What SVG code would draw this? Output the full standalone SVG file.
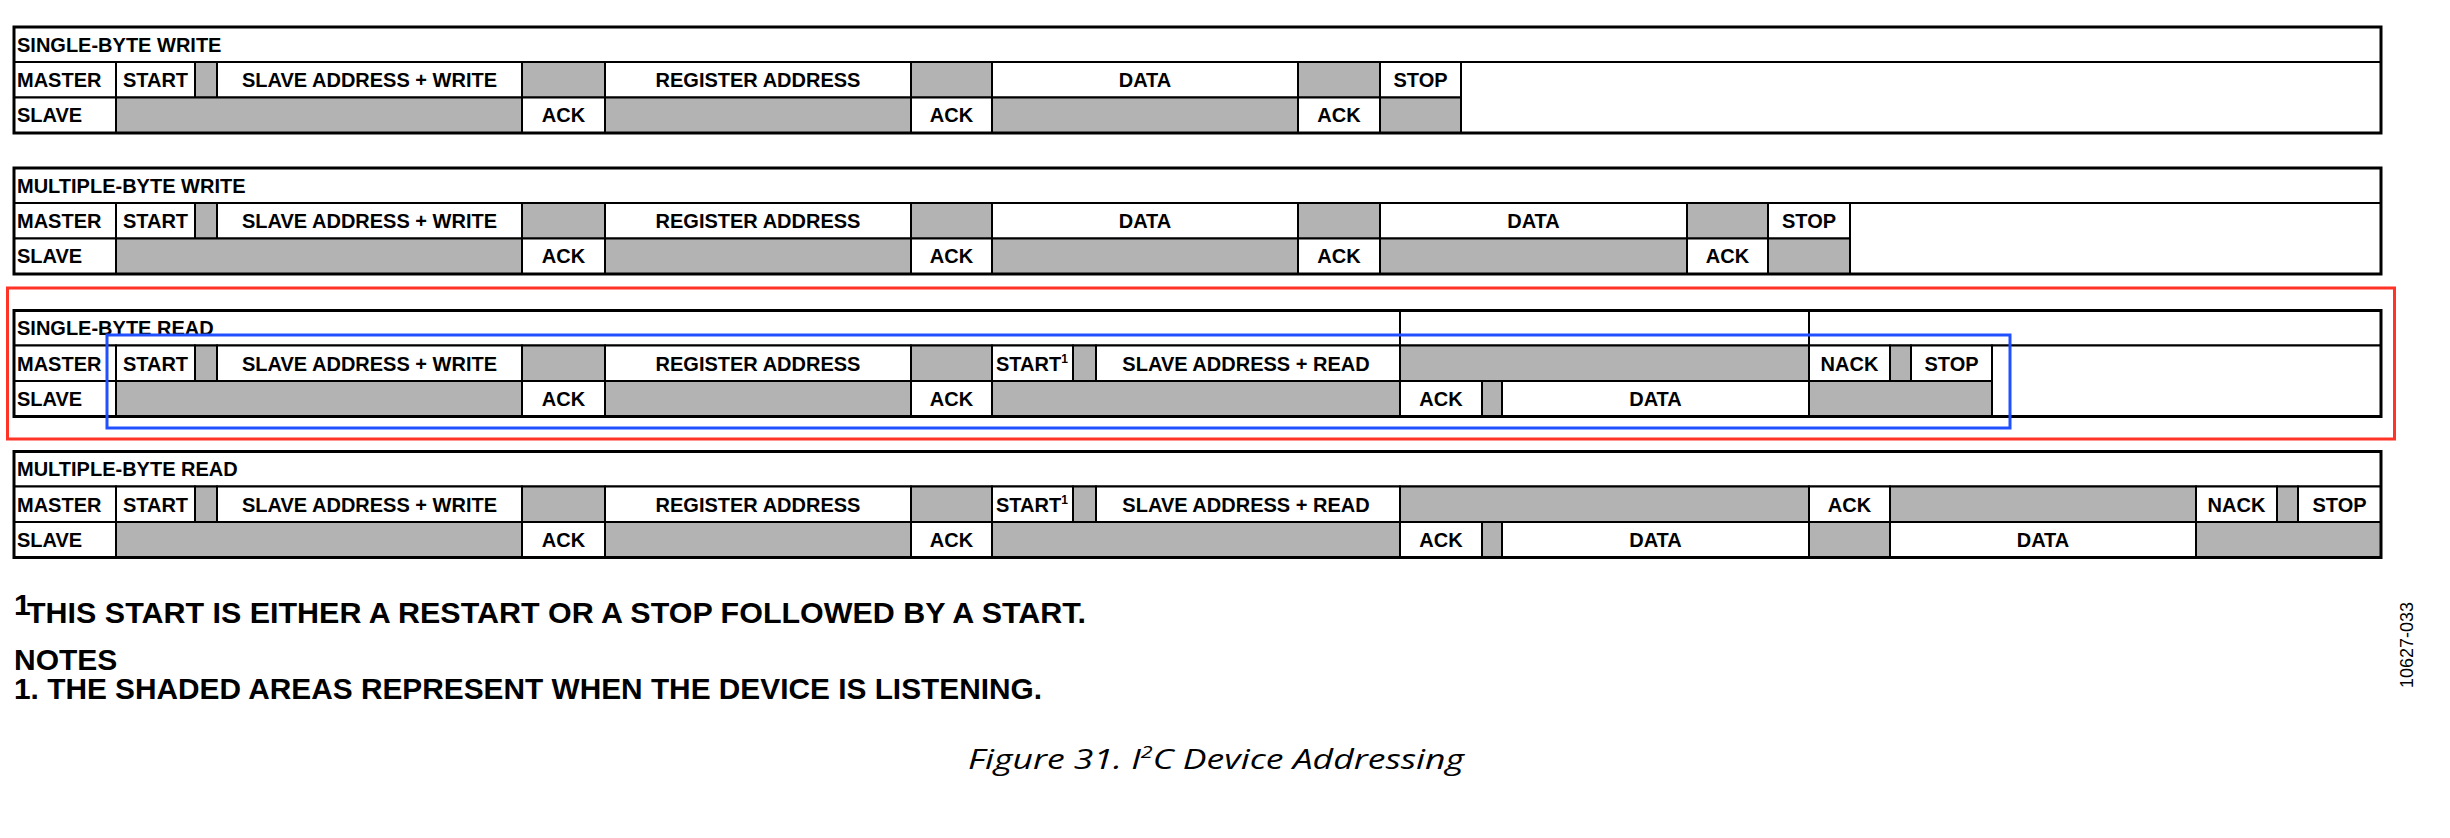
<svg xmlns="http://www.w3.org/2000/svg" width="2450" height="838" viewBox="0 0 2450 838">
<style>
.w{fill:#fff;stroke:#000;stroke-width:2}
.g{fill:#b3b3b3;stroke:#000;stroke-width:2}
.fr{fill:none;stroke:#000;stroke-width:3}
.t{font-family:"Liberation Sans",Arial,sans-serif;font-weight:bold;font-size:20px;text-anchor:middle;fill:#000}
.l{text-anchor:start}
.note{font-family:"Liberation Sans",Arial,sans-serif;font-weight:bold;font-size:30px;fill:#000}
.hl{fill:none;stroke-width:3}
</style>
<rect width="2450" height="838" fill="#fff"/>

<g id="single-byte-write" transform="translate(0,27)">
<rect class="w" x="14" y="0" width="2367" height="35"/>
<rect class="w" x="14" y="35" width="102" height="35.5"/>
<rect class="w" x="116" y="35" width="79" height="35.5"/>
<rect class="g" x="195" y="35" width="22" height="35.5"/>
<rect class="w" x="217" y="35" width="305" height="35.5"/>
<rect class="g" x="522" y="35" width="83" height="35.5"/>
<rect class="w" x="605" y="35" width="306" height="35.5"/>
<rect class="g" x="911" y="35" width="81" height="35.5"/>
<rect class="w" x="992" y="35" width="306" height="35.5"/>
<rect class="g" x="1298" y="35" width="82" height="35.5"/>
<rect class="w" x="1380" y="35" width="81" height="35.5"/>
<rect class="w" x="1461" y="35" width="920" height="71"/>
<rect class="w" x="14" y="70.5" width="102" height="35.5"/>
<rect class="g" x="116" y="70.5" width="406" height="35.5"/>
<rect class="w" x="522" y="70.5" width="83" height="35.5"/>
<rect class="g" x="605" y="70.5" width="306" height="35.5"/>
<rect class="w" x="911" y="70.5" width="81" height="35.5"/>
<rect class="g" x="992" y="70.5" width="306" height="35.5"/>
<rect class="w" x="1298" y="70.5" width="82" height="35.5"/>
<rect class="g" x="1380" y="70.5" width="81" height="35.5"/>
<rect class="fr" x="14" y="0" width="2367" height="106"/>
<text class="t l" x="17" y="24.5">SINGLE-BYTE WRITE</text>
<text class="t l" x="17" y="60">MASTER</text>
<text class="t" x="155.5" y="60">START</text>
<text class="t" x="369.5" y="60">SLAVE ADDRESS + WRITE</text>
<text class="t" x="758" y="60">REGISTER ADDRESS</text>
<text class="t" x="1145" y="60">DATA</text>
<text class="t" x="1420.5" y="60">STOP</text>
<text class="t l" x="17" y="95">SLAVE</text>
<text class="t" x="563.5" y="95">ACK</text>
<text class="t" x="951.5" y="95">ACK</text>
<text class="t" x="1339" y="95">ACK</text>
</g>

<g id="multiple-byte-write" transform="translate(0,168)">
<rect class="w" x="14" y="0" width="2367" height="35"/>
<rect class="w" x="14" y="35" width="102" height="35.5"/>
<rect class="w" x="116" y="35" width="79" height="35.5"/>
<rect class="g" x="195" y="35" width="22" height="35.5"/>
<rect class="w" x="217" y="35" width="305" height="35.5"/>
<rect class="g" x="522" y="35" width="83" height="35.5"/>
<rect class="w" x="605" y="35" width="306" height="35.5"/>
<rect class="g" x="911" y="35" width="81" height="35.5"/>
<rect class="w" x="992" y="35" width="306" height="35.5"/>
<rect class="g" x="1298" y="35" width="82" height="35.5"/>
<rect class="w" x="1380" y="35" width="307" height="35.5"/>
<rect class="g" x="1687" y="35" width="81" height="35.5"/>
<rect class="w" x="1768" y="35" width="82" height="35.5"/>
<rect class="w" x="1850" y="35" width="531" height="71"/>
<rect class="w" x="14" y="70.5" width="102" height="35.5"/>
<rect class="g" x="116" y="70.5" width="406" height="35.5"/>
<rect class="w" x="522" y="70.5" width="83" height="35.5"/>
<rect class="g" x="605" y="70.5" width="306" height="35.5"/>
<rect class="w" x="911" y="70.5" width="81" height="35.5"/>
<rect class="g" x="992" y="70.5" width="306" height="35.5"/>
<rect class="w" x="1298" y="70.5" width="82" height="35.5"/>
<rect class="g" x="1380" y="70.5" width="307" height="35.5"/>
<rect class="w" x="1687" y="70.5" width="81" height="35.5"/>
<rect class="g" x="1768" y="70.5" width="82" height="35.5"/>
<rect class="fr" x="14" y="0" width="2367" height="106"/>
<text class="t l" x="17" y="24.5">MULTIPLE-BYTE WRITE</text>
<text class="t l" x="17" y="60">MASTER</text>
<text class="t" x="155.5" y="60">START</text>
<text class="t" x="369.5" y="60">SLAVE ADDRESS + WRITE</text>
<text class="t" x="758" y="60">REGISTER ADDRESS</text>
<text class="t" x="1145" y="60">DATA</text>
<text class="t" x="1533.5" y="60">DATA</text>
<text class="t" x="1809" y="60">STOP</text>
<text class="t l" x="17" y="95">SLAVE</text>
<text class="t" x="563.5" y="95">ACK</text>
<text class="t" x="951.5" y="95">ACK</text>
<text class="t" x="1339" y="95">ACK</text>
<text class="t" x="1727.5" y="95">ACK</text>
</g>

<g id="single-byte-read" transform="translate(0,310.5)">
<rect class="w" x="14" y="0" width="1386" height="35"/>
<rect class="w" x="1400" y="0" width="409" height="35"/>
<rect class="w" x="1809" y="0" width="572" height="35"/>
<rect class="w" x="14" y="35" width="102" height="35.5"/>
<rect class="w" x="116" y="35" width="79" height="35.5"/>
<rect class="g" x="195" y="35" width="22" height="35.5"/>
<rect class="w" x="217" y="35" width="305" height="35.5"/>
<rect class="g" x="522" y="35" width="83" height="35.5"/>
<rect class="w" x="605" y="35" width="306" height="35.5"/>
<rect class="g" x="911" y="35" width="81" height="35.5"/>
<rect class="w" x="992" y="35" width="81" height="35.5"/>
<rect class="g" x="1073" y="35" width="23" height="35.5"/>
<rect class="w" x="1096" y="35" width="304" height="35.5"/>
<rect class="g" x="1400" y="35" width="409" height="35.5"/>
<rect class="w" x="1809" y="35" width="81" height="35.5"/>
<rect class="g" x="1890" y="35" width="21" height="35.5"/>
<rect class="w" x="1911" y="35" width="81" height="35.5"/>
<rect class="w" x="1992" y="35" width="389" height="71"/>
<rect class="w" x="14" y="70.5" width="102" height="35.5"/>
<rect class="g" x="116" y="70.5" width="406" height="35.5"/>
<rect class="w" x="522" y="70.5" width="83" height="35.5"/>
<rect class="g" x="605" y="70.5" width="306" height="35.5"/>
<rect class="w" x="911" y="70.5" width="81" height="35.5"/>
<rect class="g" x="992" y="70.5" width="408" height="35.5"/>
<rect class="w" x="1400" y="70.5" width="82" height="35.5"/>
<rect class="g" x="1482" y="70.5" width="20" height="35.5"/>
<rect class="w" x="1502" y="70.5" width="307" height="35.5"/>
<rect class="g" x="1809" y="70.5" width="183" height="35.5"/>
<rect class="fr" x="14" y="0" width="2367" height="106"/>
<text class="t l" x="17" y="24.5">SINGLE-BYTE READ</text>
<text class="t l" x="17" y="60">MASTER</text>
<text class="t" x="155.5" y="60">START</text>
<text class="t" x="369.5" y="60">SLAVE ADDRESS + WRITE</text>
<text class="t" x="758" y="60">REGISTER ADDRESS</text>
<text class="t l" x="996" y="60">START<tspan font-size="12" dy="-8">1</tspan></text>
<text class="t" x="1246" y="60">SLAVE ADDRESS + READ</text>
<text class="t" x="1849.5" y="60">NACK</text>
<text class="t" x="1951.5" y="60">STOP</text>
<text class="t l" x="17" y="95">SLAVE</text>
<text class="t" x="563.5" y="95">ACK</text>
<text class="t" x="951.5" y="95">ACK</text>
<text class="t" x="1441" y="95">ACK</text>
<text class="t" x="1655.5" y="95">DATA</text>
</g>

<g id="multiple-byte-read" transform="translate(0,451.5)">
<rect class="w" x="14" y="0" width="2367" height="35"/>
<rect class="w" x="14" y="35" width="102" height="35.5"/>
<rect class="w" x="116" y="35" width="79" height="35.5"/>
<rect class="g" x="195" y="35" width="22" height="35.5"/>
<rect class="w" x="217" y="35" width="305" height="35.5"/>
<rect class="g" x="522" y="35" width="83" height="35.5"/>
<rect class="w" x="605" y="35" width="306" height="35.5"/>
<rect class="g" x="911" y="35" width="81" height="35.5"/>
<rect class="w" x="992" y="35" width="81" height="35.5"/>
<rect class="g" x="1073" y="35" width="23" height="35.5"/>
<rect class="w" x="1096" y="35" width="304" height="35.5"/>
<rect class="g" x="1400" y="35" width="409" height="35.5"/>
<rect class="w" x="1809" y="35" width="81" height="35.5"/>
<rect class="g" x="1890" y="35" width="306" height="35.5"/>
<rect class="w" x="2196" y="35" width="81" height="35.5"/>
<rect class="g" x="2277" y="35" width="21" height="35.5"/>
<rect class="w" x="2298" y="35" width="83" height="35.5"/>
<rect class="w" x="14" y="70.5" width="102" height="35.5"/>
<rect class="g" x="116" y="70.5" width="406" height="35.5"/>
<rect class="w" x="522" y="70.5" width="83" height="35.5"/>
<rect class="g" x="605" y="70.5" width="306" height="35.5"/>
<rect class="w" x="911" y="70.5" width="81" height="35.5"/>
<rect class="g" x="992" y="70.5" width="408" height="35.5"/>
<rect class="w" x="1400" y="70.5" width="82" height="35.5"/>
<rect class="g" x="1482" y="70.5" width="20" height="35.5"/>
<rect class="w" x="1502" y="70.5" width="307" height="35.5"/>
<rect class="g" x="1809" y="70.5" width="81" height="35.5"/>
<rect class="w" x="1890" y="70.5" width="306" height="35.5"/>
<rect class="g" x="2196" y="70.5" width="185" height="35.5"/>
<rect class="fr" x="14" y="0" width="2367" height="106"/>
<text class="t l" x="17" y="24.5">MULTIPLE-BYTE READ</text>
<text class="t l" x="17" y="60">MASTER</text>
<text class="t" x="155.5" y="60">START</text>
<text class="t" x="369.5" y="60">SLAVE ADDRESS + WRITE</text>
<text class="t" x="758" y="60">REGISTER ADDRESS</text>
<text class="t l" x="996" y="60">START<tspan font-size="12" dy="-8">1</tspan></text>
<text class="t" x="1246" y="60">SLAVE ADDRESS + READ</text>
<text class="t" x="1849.5" y="60">ACK</text>
<text class="t" x="2236.5" y="60">NACK</text>
<text class="t" x="2339.5" y="60">STOP</text>
<text class="t l" x="17" y="95">SLAVE</text>
<text class="t" x="563.5" y="95">ACK</text>
<text class="t" x="951.5" y="95">ACK</text>
<text class="t" x="1441" y="95">ACK</text>
<text class="t" x="1655.5" y="95">DATA</text>
<text class="t" x="2043" y="95">DATA</text>
</g>

<g id="highlights">
<rect class="hl" x="7.5" y="288" width="2387" height="151" stroke="#ff3326"/>
<rect class="hl" x="107" y="335" width="1903" height="93" stroke="#2050ff"/>
</g>

<g id="notes">
<text class="note" x="14" y="615" font-size="18">1</text>
<text class="note" x="27" y="623" textLength="1059" lengthAdjust="spacingAndGlyphs">THIS START IS EITHER A RESTART OR A STOP FOLLOWED BY A START.</text>
<text class="note" x="14" y="669.5">NOTES</text>
<text class="note" x="14" y="699" textLength="1028" lengthAdjust="spacingAndGlyphs">1. THE SHADED AREAS REPRESENT WHEN THE DEVICE IS LISTENING.</text>
</g>

<text x="968" y="769" font-family="'Open Sans','Noto Sans',sans-serif" font-style="italic" font-size="28" fill="#000" textLength="496" lengthAdjust="spacingAndGlyphs">Figure 31. I<tspan font-size="17" dy="-11">2</tspan><tspan dy="11">C Device Addressing</tspan></text>

<text transform="translate(2413,645) rotate(-90)" font-family="'Liberation Sans',Arial,sans-serif" font-size="18" text-anchor="middle" fill="#000">10627-033</text>
</svg>
